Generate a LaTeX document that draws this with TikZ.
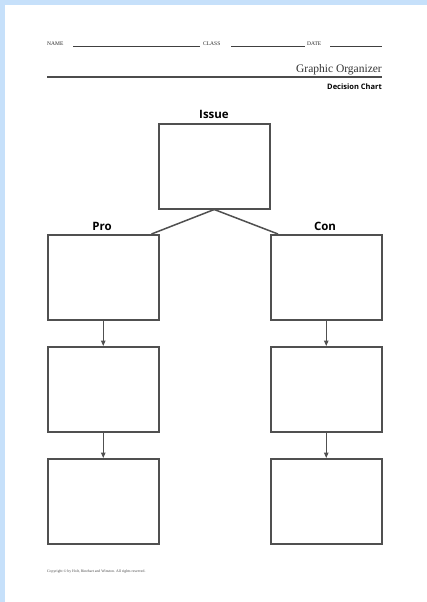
\documentclass[tikz,border=0pt]{standalone}
\usepackage{fontspec}
\setmainfont{Liberation Serif}
\newfontfamily\headsans{Open Sans}
\usetikzlibrary{arrows.meta}
\definecolor{pageblue}{HTML}{C6E0FA}
\definecolor{boxgray}{HTML}{505050}
\tikzset{
  chartbox/.style={draw=boxgray, line width=1.5pt, minimum width=111pt, minimum height=85pt, inner sep=0pt, anchor=north west},
  headlabel/.style={font=\headsans\bfseries\fontsize{11.5}{11.5}\selectfont, inner sep=0pt, anchor=base},
  link/.style={draw=boxgray, line width=1.5pt},
  flow/.style={draw=boxgray, line width=1.1pt, -{Triangle[length=5.5pt,width=4.5pt]}},
  formlabel/.style={font=\fontsize{5.5}{5.5}\selectfont, inner sep=0pt, anchor=base west, text=black!85},
  blank/.style={draw=black!75, line width=0.8pt}
}
\begin{document}
\begin{tikzpicture}[x=1pt,y=-1pt]
\useasboundingbox (0,0) rectangle (427,602);
\fill[pageblue] (0,0) rectangle (427,602);
\fill[white] (5,5) rectangle (427,602);
% header form
\node[formlabel] (name) at (47,46) {NAME};
\node[formlabel] (class) at (203,46) {CLASS};
\node[formlabel] (date) at (307,46) {DATE};
\draw[blank] (73,46.5) -- (200,46.5);
\draw[blank] (231,46.5) -- (305,46.5);
\draw[blank] (330,46.5) -- (382,46.5);
\node[font=\fontsize{11.5}{11.5}\selectfont, inner sep=0pt, anchor=base east, text=black!80] (go) at (382,72) {Graphic Organizer};
\draw[black!70, line width=2pt] (47,76.5) -- (382,76.5);
\node[font=\headsans\bfseries\fontsize{7.5}{7.5}\selectfont, inner sep=0pt, anchor=base east] (dc) at (382,89) {Decision Chart};
% boxes
\node[chartbox] (issue) at (158,123) {};
\node[chartbox] (pro1) at (47,234) {};
\node[chartbox] (pro2) at (47,346) {};
\node[chartbox] (pro3) at (47,458) {};
\node[chartbox] (con1) at (270,234) {};
\node[chartbox] (con2) at (270,346) {};
\node[chartbox] (con3) at (270,458) {};
% labels
\node[headlabel] (issuelbl) at (214,118) {Issue};
\node[headlabel] (prolbl) at (102,230) {Pro};
\node[headlabel] (conlbl) at (325,230) {Con};
% connectors
\coordinate (split) at (issue.south);
\coordinate (proend) at ([xshift=-8pt]pro1.north east);
\coordinate (conend) at ([xshift=8pt]con1.north west);
\draw[link] (split) -- (proend);
\draw[link] (split) -- (conend);
\draw[flow] (pro1.south) -- (pro2.north);
\draw[flow] (pro2.south) -- (pro3.north);
\draw[flow] (con1.south) -- (con2.north);
\draw[flow] (con2.south) -- (con3.north);
% footer
\node[font=\fontsize{3.8}{4}\selectfont, inner sep=0pt, anchor=base west, text=black!70] (copy) at (47,572) {Copyright \textcopyright{} by Holt, Rinehart and Winston. All rights reserved.};
\end{tikzpicture}
\end{document}
